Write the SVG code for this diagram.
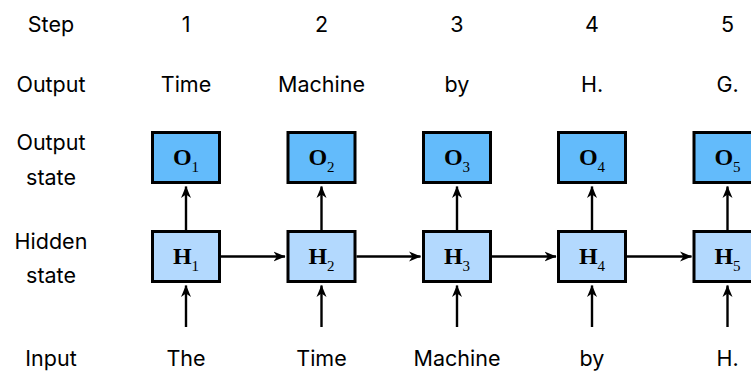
<svg xmlns="http://www.w3.org/2000/svg" width="751" height="373" viewBox="0 0 751 373">
<style>
.lbl{font-family:Inter,"Liberation Sans",sans-serif;font-size:21.5px;fill:#000;text-anchor:middle}
.box{stroke:#000;stroke-width:3}
.o{fill:#63bbfb}
.h{fill:#b3d9fe}
.bt{font-family:"Liberation Serif","Times New Roman",serif;font-size:24px;font-weight:bold;text-anchor:middle}
.sub{font-weight:normal;font-size:15px}
.ln{stroke:#000;stroke-width:2.4;fill:none}
</style>
<defs>
<marker id="ah" markerUnits="userSpaceOnUse" viewBox="0 0 12 11" refX="11.5" refY="5.5" markerWidth="12" markerHeight="11" orient="auto">
<path d="M0,0.5 L12,5.5 L0,10.5 L3.5,5.5 z" fill="#000"/>
</marker>
</defs>
<rect width="751" height="373" fill="#fff"/>
<g id="row-labels">
<text class="lbl" x="51" y="32">Step</text>
<text class="lbl" x="51" y="92">Output</text>
<text class="lbl" x="51" y="150">Output</text>
<text class="lbl" x="51" y="185">state</text>
<text class="lbl" x="51" y="249">Hidden</text>
<text class="lbl" x="51" y="283">state</text>
<text class="lbl" x="51" y="366">Input</text>
</g>
<g id="steps">
<text class="lbl" x="186" y="32">1</text>
<text class="lbl" x="321.5" y="32">2</text>
<text class="lbl" x="457" y="32">3</text>
<text class="lbl" x="592" y="32">4</text>
<text class="lbl" x="727.5" y="32">5</text>
</g>
<g id="outputs">
<text class="lbl" x="186" y="92">Time</text>
<text class="lbl" x="321.5" y="92">Machine</text>
<text class="lbl" x="457" y="92">by</text>
<text class="lbl" x="592" y="92">H.</text>
<text class="lbl" x="727.5" y="92">G.</text>
</g>
<g id="inputs">
<text class="lbl" x="186" y="366">The</text>
<text class="lbl" x="321.5" y="366">Time</text>
<text class="lbl" x="457" y="366">Machine</text>
<text class="lbl" x="592" y="366">by</text>
<text class="lbl" x="727.5" y="366">H.</text>
</g>
<g id="connectors">
<line class="ln" x1="186" y1="230" x2="186" y2="186.5" marker-end="url(#ah)"/>
<line class="ln" x1="321.5" y1="230" x2="321.5" y2="186.5" marker-end="url(#ah)"/>
<line class="ln" x1="457" y1="230" x2="457" y2="186.5" marker-end="url(#ah)"/>
<line class="ln" x1="592" y1="230" x2="592" y2="186.5" marker-end="url(#ah)"/>
<line class="ln" x1="727.5" y1="230" x2="727.5" y2="186.5" marker-end="url(#ah)"/>
<line class="ln" x1="186" y1="327" x2="186" y2="285.5" marker-end="url(#ah)"/>
<line class="ln" x1="321.5" y1="327" x2="321.5" y2="285.5" marker-end="url(#ah)"/>
<line class="ln" x1="457" y1="327" x2="457" y2="285.5" marker-end="url(#ah)"/>
<line class="ln" x1="592" y1="327" x2="592" y2="285.5" marker-end="url(#ah)"/>
<line class="ln" x1="727.5" y1="327" x2="727.5" y2="285.5" marker-end="url(#ah)"/>
<line class="ln" x1="221" y1="256.5" x2="285" y2="256.5" marker-end="url(#ah)"/>
<line class="ln" x1="356.5" y1="256.5" x2="420.5" y2="256.5" marker-end="url(#ah)"/>
<line class="ln" x1="492" y1="256.5" x2="556" y2="256.5" marker-end="url(#ah)"/>
<line class="ln" x1="627" y1="256.5" x2="691.5" y2="256.5" marker-end="url(#ah)"/>
</g>
<g id="O1"><rect class="box o" x="152.5" y="132.5" width="67" height="50"/><text class="bt" x="186" y="165">O<tspan class="sub" dy="7">1</tspan></text></g>
<g id="O2"><rect class="box o" x="288" y="132.5" width="67" height="50"/><text class="bt" x="321.5" y="165">O<tspan class="sub" dy="7">2</tspan></text></g>
<g id="O3"><rect class="box o" x="423.5" y="132.5" width="67" height="50"/><text class="bt" x="457" y="165">O<tspan class="sub" dy="7">3</tspan></text></g>
<g id="O4"><rect class="box o" x="558.5" y="132.5" width="67" height="50"/><text class="bt" x="592" y="165">O<tspan class="sub" dy="7">4</tspan></text></g>
<g id="O5"><rect class="box o" x="694" y="132.5" width="67" height="50"/><text class="bt" x="727.5" y="165">O<tspan class="sub" dy="7">5</tspan></text></g>
<g id="H1"><rect class="box h" x="152.5" y="231.5" width="67" height="50"/><text class="bt" x="186" y="264">H<tspan class="sub" dy="7">1</tspan></text></g>
<g id="H2"><rect class="box h" x="288" y="231.5" width="67" height="50"/><text class="bt" x="321.5" y="264">H<tspan class="sub" dy="7">2</tspan></text></g>
<g id="H3"><rect class="box h" x="423.5" y="231.5" width="67" height="50"/><text class="bt" x="457" y="264">H<tspan class="sub" dy="7">3</tspan></text></g>
<g id="H4"><rect class="box h" x="558.5" y="231.5" width="67" height="50"/><text class="bt" x="592" y="264">H<tspan class="sub" dy="7">4</tspan></text></g>
<g id="H5"><rect class="box h" x="694" y="231.5" width="67" height="50"/><text class="bt" x="727.5" y="264">H<tspan class="sub" dy="7">5</tspan></text></g>
</svg>
